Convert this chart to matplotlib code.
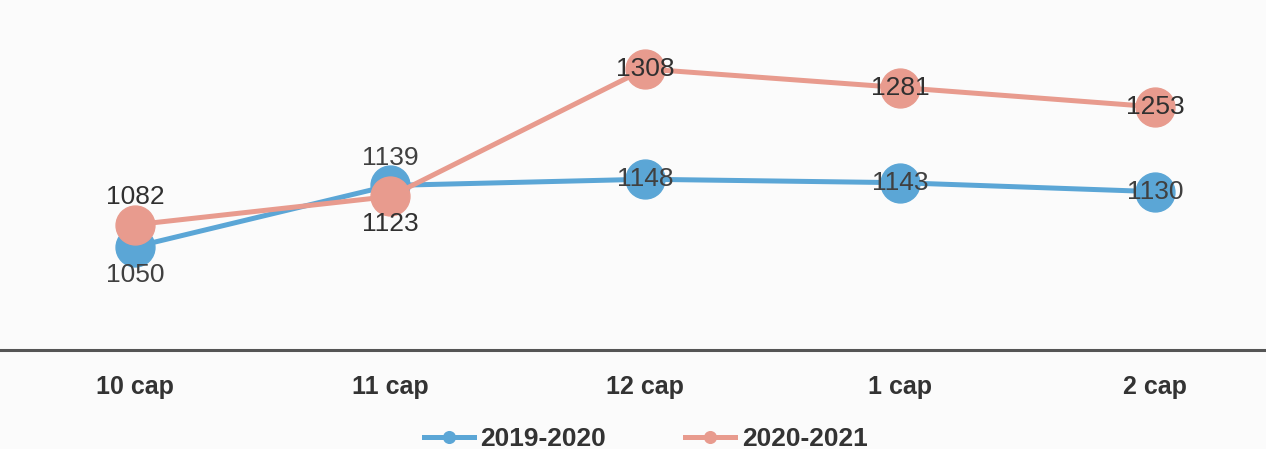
import matplotlib.pyplot as plt

months = ['10 cap', '11 cap', '12 cap', '1 cap', '2 cap']
y2019 = [1050, 1139, 1148, 1143, 1130]
y2020 = [1082, 1123, 1308, 1281, 1253]

blue = '#5ba6d6'
red = '#e89b8e'

plt.rcParams['font.family'] = ['Liberation Sans', 'DejaVu Sans']

fig = plt.figure(figsize=(12.66, 4.49), dpi=100, facecolor='#fbfbfb')
ax = fig.add_axes([0, 0.22, 1, 0.78])
ax.set_facecolor('#fbfbfb')

x = list(range(len(months)))
ax.plot(x, y2019, color=blue, lw=3.6, marker='o', ms=28, label='2019-2020', zorder=2)
ax.plot(x, y2020, color=red, lw=3.6, marker='o', ms=28, label='2020-2021', zorder=3)

# label offsets in points (vertical)
off2019 = [-20, 20, 0, 0, 0]
off2020 = [20, -20, 0, 0, 0]
for i in x:
    ax.annotate(str(y2019[i]), (i, y2019[i]), xytext=(0, off2019[i]), textcoords='offset points',
                ha='center', va='center', fontsize=19, color='#404040', zorder=5)
    ax.annotate(str(y2020[i]), (i, y2020[i]), xytext=(0, off2020[i]), textcoords='offset points',
                ha='center', va='center', fontsize=19, color='#303030', zorder=5)

ax.set_xlim(-0.53, 4.435)
ax.set_ylim(900, 1408)
ax.set_yticks([])
ax.set_xticks(x)
ax.set_xticklabels(months, fontsize=18, fontweight='bold', color='#333333')
ax.tick_params(axis='x', length=0, pad=18)
for s in ['top', 'left', 'right']:
    ax.spines[s].set_visible(False)
ax.spines['bottom'].set_color('#555555')
ax.spines['bottom'].set_linewidth(2.2)

leg = fig.legend(loc='center', bbox_to_anchor=(0.51, 0.022), ncol=2, frameon=False,
                 fontsize=19, handlelength=1.9, handletextpad=0.25, columnspacing=3,
                 markerscale=0.3)
for t in leg.get_texts():
    t.set_fontweight('bold')
    t.set_color('#333333')

fig.savefig('out.png', dpi=100, facecolor=fig.get_facecolor())
